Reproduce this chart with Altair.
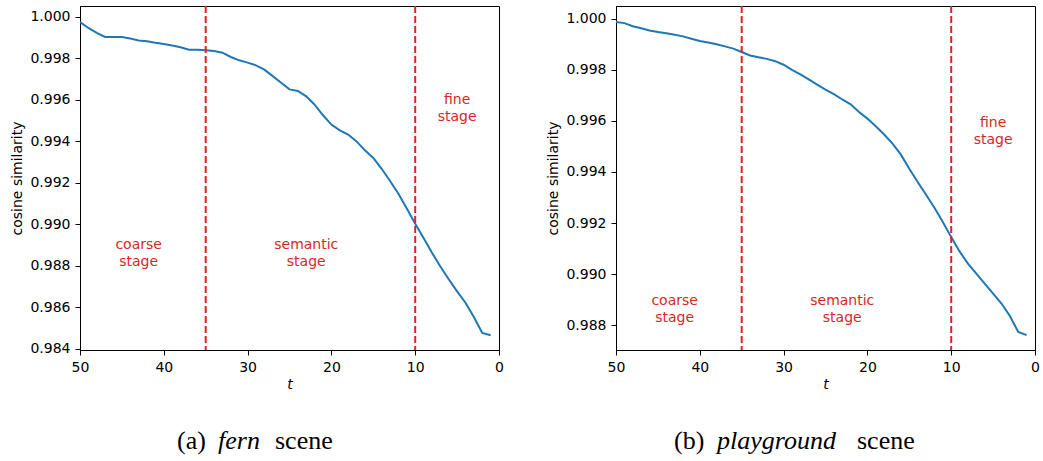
import altair as alt
import pandas as pd

# ---------------- data ----------------
t_steps = list(range(50, 0, -1))

fern_sim = [
    0.99976, 0.99947, 0.99923, 0.99904, 0.99903, 0.99903, 0.99896, 0.99887, 0.99883, 0.99876,
    0.99870, 0.99862, 0.99854, 0.99842, 0.99842, 0.99840, 0.99836, 0.99828, 0.99807, 0.99791,
    0.99780, 0.99767, 0.99746, 0.99715, 0.99683, 0.99651, 0.99643, 0.99617, 0.99577, 0.99526,
    0.99481, 0.99453, 0.99433, 0.99400, 0.99357, 0.99320, 0.99268, 0.99209, 0.99148, 0.99076,
    0.99003, 0.98934, 0.98863, 0.98797, 0.98735, 0.98677, 0.98622, 0.98553, 0.98476, 0.98465,
]

playground_sim = [
    0.99987, 0.99983, 0.99971, 0.99963, 0.99954, 0.99948, 0.99943, 0.99937, 0.99931, 0.99922,
    0.99913, 0.99907, 0.99900, 0.99892, 0.99883, 0.99870, 0.99856, 0.99849, 0.99843, 0.99834,
    0.99820, 0.99800, 0.99782, 0.99763, 0.99742, 0.99723, 0.99705, 0.99684, 0.99665, 0.99635,
    0.99609, 0.99579, 0.99547, 0.99511, 0.99468, 0.99413, 0.99361, 0.99311, 0.99260, 0.99204,
    0.99145, 0.99089, 0.99041, 0.99002, 0.98963, 0.98924, 0.98885, 0.98836, 0.98774, 0.98761,
]

stage_bounds = [35, 10]
stage_labels = ["coarse\nstage", "semantic\nstage", "fine\nstage"]
stage_label_t = [43, 23, 5]
stage_label_y = [0.9886, 0.9886, 0.9956]

x_ticks = [50, 40, 30, 20, 10, 0]
fern_ticks = [0.984, 0.986, 0.988, 0.990, 0.992, 0.994, 0.996, 0.998, 1.000]
playground_ticks = [0.988, 0.990, 0.992, 0.994, 0.996, 0.998, 1.000]
fern_domain = [0.98394, 1.00053]
playground_domain = [0.98703, 1.00050]

caption_a = ["(a)", "fern", "scene"]
caption_b = ["(b)", "playground", "scene"]
caption_styles = ["normal", "italic", "normal"]

BLUE = "#1f77b4"
RED = "#d62728"
W, H = 419, 344


def panel(values, ydomain, yticks, caption_parts, caption_x):
    df = pd.DataFrame({"t": t_steps, "sim": values})
    x = alt.X(
        "t:Q",
        scale=alt.Scale(domain=[50, 0], nice=False, zero=False),
        axis=alt.Axis(values=x_ticks, format="d", title="t", titleFontStyle="italic",
                      labelFlush=False, titlePadding=3),
    )
    y = alt.Y(
        "sim:Q",
        scale=alt.Scale(domain=ydomain, nice=False, zero=False),
        axis=alt.Axis(values=yticks, format=".3f", title="cosine similarity"),
    )
    line = alt.Chart(df).mark_line(color=BLUE, strokeWidth=2, clip=True).encode(x=x, y=y)
    rules = (
        alt.Chart(pd.DataFrame({"t": stage_bounds}))
        .mark_rule(color=RED, strokeDash=[7, 3], strokeWidth=2)
        .encode(x="t:Q")
    )
    ann = pd.DataFrame({"t": stage_label_t, "sim": stage_label_y, "label": stage_labels})
    labels = (
        alt.Chart(ann)
        .mark_text(color=RED, fontSize=14, font="DejaVu Sans", lineBreak="\n",
                   lineHeight=17, align="center", baseline="middle", dy=-8.5)
        .encode(x="t:Q", y="sim:Q", text="label:N")
    )
    layers = [line, rules, labels]
    for part, style, px in zip(caption_parts, caption_styles, caption_x):
        layers.append(
            alt.Chart(pd.DataFrame({"c": [part]}))
            .mark_text(font="Liberation Serif", fontSize=26, fontStyle=style,
                       align="left", baseline="alphabetic", color="black")
            .encode(x=alt.value(px), y=alt.value(443), text="c:N")
        )
    return alt.layer(*layers).properties(width=W, height=H)


left = panel(fern_sim, fern_domain, fern_ticks, caption_a, [97, 138, 195])
right = panel(playground_sim, playground_domain, playground_ticks, caption_b, [58, 101, 241])

chart = (
    alt.hconcat(left, right, spacing=42)
    .properties(padding={"left": 10, "top": 4, "right": 2, "bottom": 0})
    .configure_view(stroke="black", strokeWidth=1)
    .configure_axis(
        grid=False,
        labelFont="DejaVu Sans",
        titleFont="DejaVu Sans",
        labelFontSize=14,
        titleFontSize=14,
        titleFontWeight="normal",
        labelColor="black",
        titleColor="black",
        domainColor="black",
        tickColor="black",
        tickSize=5,
        labelPadding=5,
        titlePadding=5,
        domainWidth=1,
        tickWidth=1,
    )
)

chart.save("out.html", embed_options={"renderer": "svg", "actions": False})
